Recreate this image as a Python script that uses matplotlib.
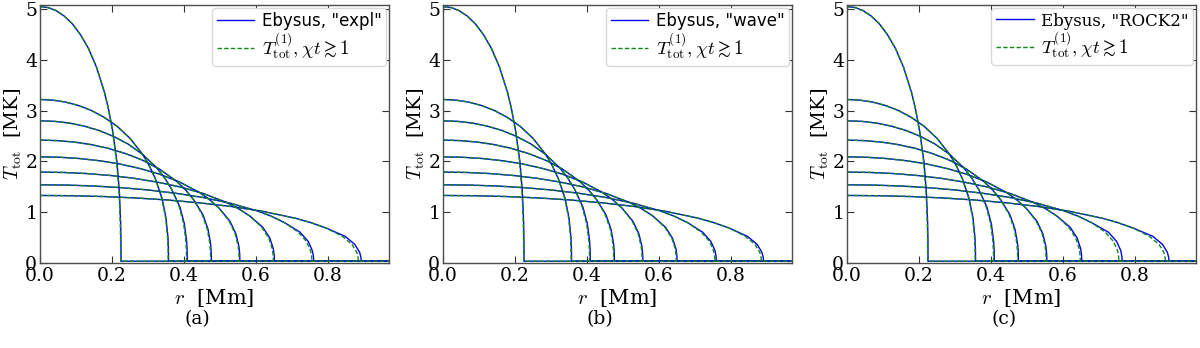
import numpy as np
import matplotlib
matplotlib.use("Agg")
import matplotlib.pyplot as plt

plt.rcParams['font.family'] = 'DejaVu Serif'
plt.rcParams['mathtext.fontset'] = 'cm'

# ---- data ----
peaks = [5.05, 3.22, 2.80, 2.42, 2.09, 1.79, 1.54, 1.33]          # MK, central temperature
fronts_analytic = [0.224, 0.356, 0.407, 0.474, 0.553, 0.648, 0.755, 0.884]  # Mm
fronts_ebysus = {
    "expl":  [0.225, 0.357, 0.409, 0.476, 0.555, 0.651, 0.760, 0.892],
    "wave":  [0.225, 0.357, 0.409, 0.476, 0.555, 0.650, 0.759, 0.890],
    "ROCK2": [0.225, 0.357, 0.409, 0.476, 0.555, 0.652, 0.764, 0.894],
}
# normalized profile: r / r_front  ->  T / T_peak
r_frac = [0.0, 0.1, 0.2, 0.3, 0.4, 0.5, 0.6, 0.7, 0.8, 0.85, 0.9, 0.95, 0.98, 0.995, 0.999, 1.0]
shape  = [1.0, 0.996, 0.984, 0.963, 0.933, 0.891, 0.837, 0.764, 0.665, 0.599, 0.515, 0.394, 0.275, 0.158, 0.083, 0.0]
T_floor = 0.035
r_end = 1.0

panels = ["expl", "wave", "ROCK2"]
captions = ["(a)", "(b)", "(c)"]

fig = plt.figure(figsize=(12, 3.48), dpi=100)
lefts = [40/1200, 443/1200, 847/1200]
W = 349/1200
B = (348-263)/348
H = (263-5)/348

rf = np.array(r_frac)
sh = np.array(shape)
tail = rf > 0.9

for k, name in enumerate(panels):
    ax = fig.add_axes([lefts[k], B, W, H])
    for i, T0 in enumerate(peaks):
        ra = fronts_analytic[i]
        re = fronts_ebysus[name][i]
        # Ebysus (blue)
        rb = np.where(tail, rf * re, rf * ra)
        Tb = np.maximum(sh * T0, T_floor)
        rb = np.append(rb, r_end)
        Tb = np.append(Tb, T_floor)
        # analytic (green dashed)
        rg = np.append(rf * ra, r_end)
        Tg = np.append(np.maximum(sh * T0, T_floor), T_floor)
        ax.plot(rb, Tb, color='#0000ff', lw=1.0,
                label=('Ebysus, "%s"' % name) if i == 0 else None)
        ax.plot(rg, Tg, color='#108a10', lw=1.0, ls=(0, (3.2, 1.6)),
                label=r'$T^{(1)}_{\rm tot}, \chi t \gtrsim 1$' if i == 0 else None)
    ax.set_xlim(0, 0.969)
    ax.set_ylim(0, 5.08)
    ax.set_xticks([0.0, 0.2, 0.4, 0.6, 0.8])
    ax.set_yticks([0, 1, 2, 3, 4, 5])
    ax.tick_params(direction='in', top=True, right=True, length=5, width=0.8,
                   labelsize=13.5, pad=3, color='0.2')
    ax.tick_params(axis='y', pad=2)
    for s in ax.spines.values():
        s.set_color('0.3')
        s.set_linewidth(1.0)
    ax.set_xlabel(r'$r$  [Mm]', fontsize=15, labelpad=1)
    ax.set_ylabel(r'$T_{\rm tot}$  [MK]', fontsize=14, labelpad=1)
    leg = ax.legend(loc='upper right', fontsize=13.5, borderaxespad=0.15,
                    handlelength=2.0, handletextpad=0.4, borderpad=0.25,
                    labelspacing=0.0, framealpha=1.0, edgecolor='0.85')
    txt = leg.get_texts()[0]
    txt.set_fontsize(12)
    if name == "ROCK2":
        txt.set_family('DejaVu Serif')
    else:
        txt.set_family('DejaVu Sans')
    fig.text((lefts[k]*1200 - 40 + 197)/1200, 1 - 319/348, captions[k],
             ha='center', va='center', fontsize=13.5)

fig.savefig('out.png', dpi=100)
